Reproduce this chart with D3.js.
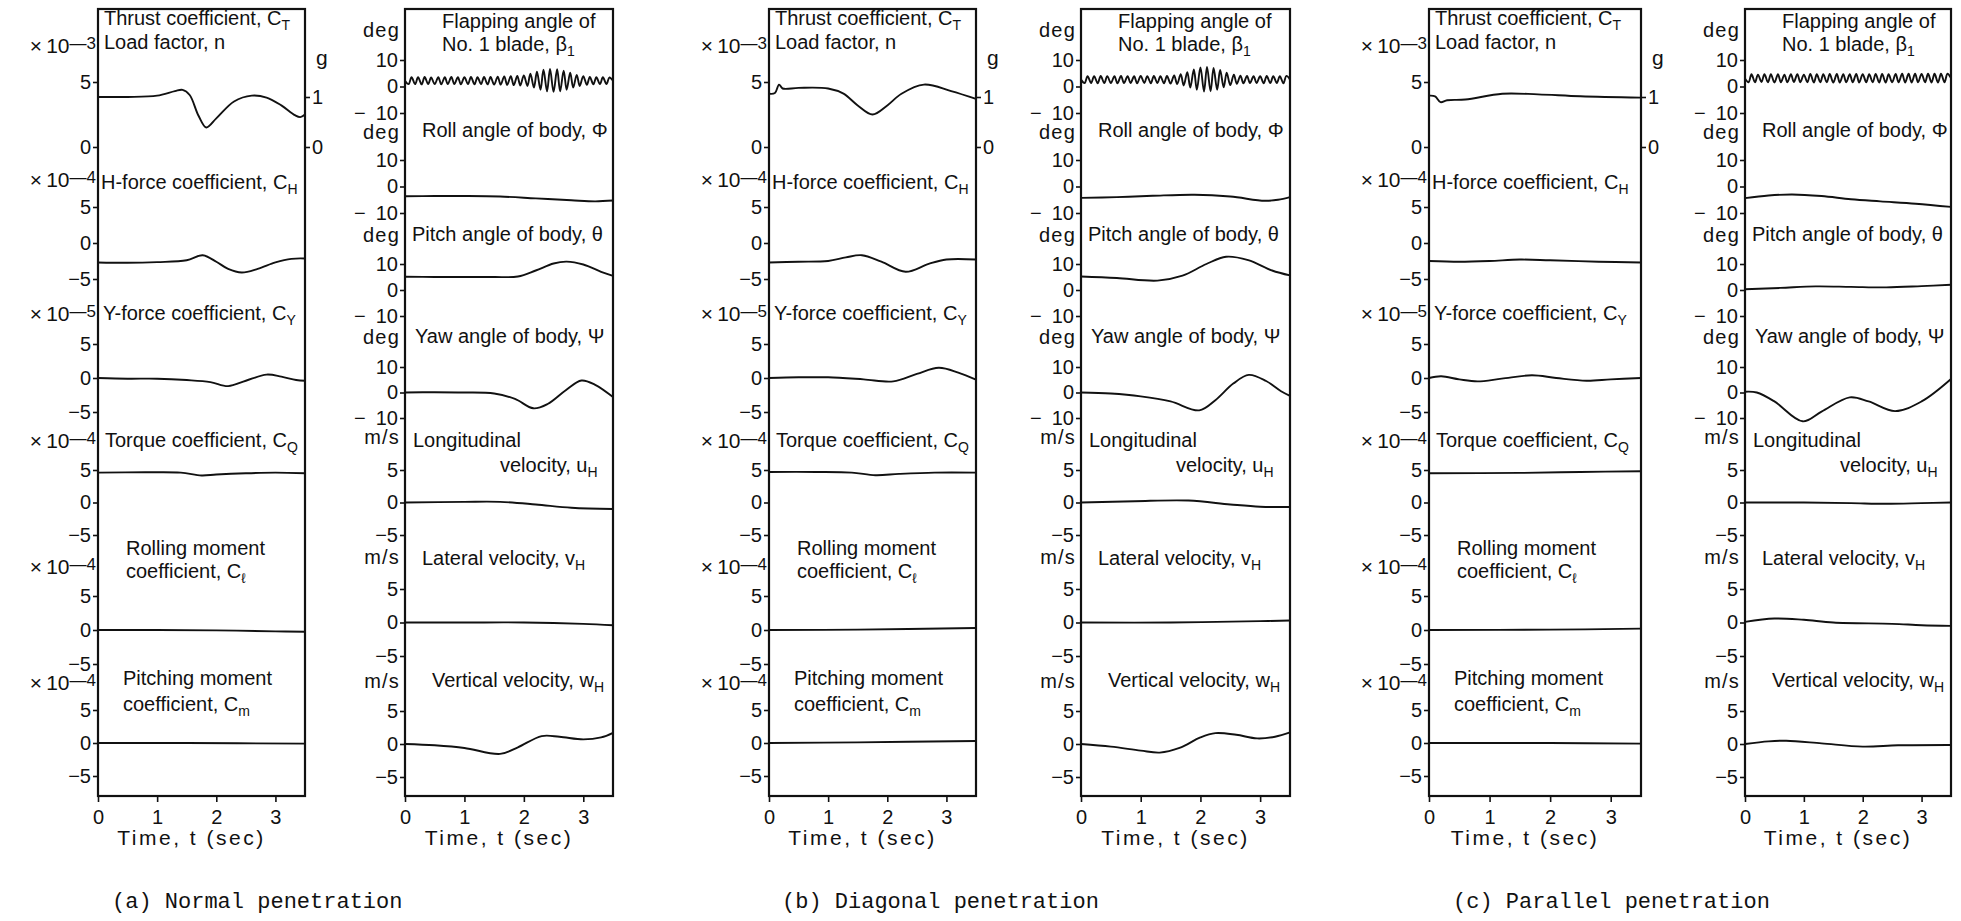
<!DOCTYPE html>
<html>
<head>
<meta charset="utf-8">
<script src="https://cdn.jsdelivr.net/npm/d3@7"></script>
<style>
  body { margin: 0; background: #fff; }
  text { font-family: "Liberation Sans", Arial, sans-serif; fill: #111; }
</style>
</head>
<body>
<svg id="chart" width="1961" height="921"></svg>
<script>
// ---- tick labels ----
var timeTicks = [0, 1, 2, 3];
var coefTicks = [5, 0, -5];
var thrustTicks = [5, 0];
var loadTicks = [1, 0];
var degTicks = [10, 0, -10];
var msTicks = [5, 0, -5];
var multipliers = ["—3", "—4", "—5", "—4", "—4", "—4"];
var units = ["deg", "deg", "deg", "deg", "m/s", "m/s", "m/s"];
var captions = ["(a) Normal penetration", "(b) Diagonal penetration", "(c) Parallel penetration"];

// ---- flapping angle samples (deg) ----
var flapT = [0.00,0.06,0.11,0.17,0.22,0.28,0.33,0.39,0.44,0.50,
  0.56,0.61,0.67,0.72,0.78,0.83,0.89,0.94,1.00,1.06,
  1.11,1.17,1.22,1.28,1.33,1.39,1.44,1.50,1.56,1.61,
  1.67,1.72,1.78,1.83,1.89,1.94,2.00,2.06,2.11,2.17,
  2.22,2.28,2.33,2.39,2.44,2.50,2.56,2.61,2.67,2.72,
  2.78,2.83,2.89,2.94,3.00,3.06,3.11,3.17,3.22,3.28,
  3.33,3.39,3.44,3.50];
var flapA = [2.2,0.9,3.5,0.9,3.5,0.8,3.6,0.9,3.4,0.9,
  3.5,0.8,3.5,0.9,3.6,0.9,3.5,0.8,3.5,0.9,
  3.6,0.8,3.5,0.9,3.6,0.8,3.6,0.7,3.7,0.7,
  3.8,0.6,3.9,0.5,4.0,0.4,4.2,0.2,4.8,-0.4,
  5.6,-1.2,6.3,-1.8,6.6,-2.0,6.5,-1.8,6.0,-1.2,
  5.2,-0.4,4.4,0.2,3.9,0.6,3.6,0.8,3.5,0.9,
  3.5,0.9,3.4,2.2];
var flapB = [2.6,1.3,3.9,1.3,3.9,1.2,4.0,1.3,3.9,1.3,
  3.9,1.2,4.0,1.3,3.9,1.3,3.9,1.2,4.0,1.3,
  3.9,1.2,4.0,1.3,3.9,1.2,4.0,1.1,4.2,0.9,
  4.6,0.4,5.4,-0.4,6.4,-1.2,7.2,-1.9,7.4,-1.8,
  7.0,-1.2,6.2,-0.3,5.2,0.5,4.5,1.0,4.1,1.2,
  4.0,1.3,3.9,1.3,3.9,1.2,4.0,1.3,3.9,1.3,
  3.9,1.2,4.0,2.6];
var flapC = [3.0,1.6,4.6,1.6,4.5,1.7,4.6,1.6,4.6,1.5,
  4.6,1.6,4.5,1.6,4.6,1.7,4.6,1.6,4.5,1.6,
  4.7,1.5,4.6,1.6,4.6,1.6,4.7,1.5,4.7,1.5,
  4.6,1.6,4.6,1.6,4.7,1.5,4.6,1.6,4.6,1.6,
  4.7,1.5,4.7,1.5,4.6,1.6,4.7,1.6,4.8,1.5,
  4.8,1.5,4.8,1.6,4.7,1.6,4.8,1.5,4.8,1.5,
  4.8,1.6,4.8,3.2];

// ---- (a) normal penetration, [t, value] ----
var thrustA = [[0,3.85],[0.5,3.85],[1.0,3.95],[1.3,4.3],[1.43,4.4],[1.55,4.0],[1.7,2.4],[1.83,1.5],[2.0,2.2],[2.3,3.5],[2.6,3.95],[2.85,3.8],[3.1,3.2],[3.33,2.45],[3.42,2.3],[3.5,2.5]];
var hForceA = [[0,-2.7],[0.5,-2.75],[1.0,-2.65],[1.5,-2.4],[1.77,-1.7],[2.0,-2.6],[2.2,-3.6],[2.43,-4.1],[2.7,-3.6],[3.0,-2.7],[3.27,-2.2],[3.5,-2.15]];
var yForceA = [[0,0],[0.5,-0.1],[1.0,-0.1],[1.5,-0.3],[1.9,-0.6],[2.2,-1.2],[2.5,-0.4],[2.85,0.5],[3.1,0.2],[3.35,-0.3],[3.5,-0.4]];
var torqueA = [[0,4.6],[0.8,4.65],[1.4,4.6],[1.75,4.15],[2.0,4.3],[2.5,4.5],[3.0,4.6],[3.5,4.5]];
var rollMomA = [[0,0],[1,0],[2,-0.05],[3,-0.2],[3.5,-0.25]];
var pitchMomA = [[0,0],[1.5,0],[3.5,-0.1]];
var rollA = [[0,-3.7],[0.5,-3.6],[1.0,-3.6],[1.6,-3.8],[2.2,-4.5],[2.8,-5.2],[3.2,-5.6],[3.5,-5.3]];
var pitchA = [[0,5.1],[0.5,5.0],[1.0,5.0],[1.5,5.0],[1.9,5.2],[2.2,7.5],[2.5,10.2],[2.72,10.9],[3.0,9.8],[3.3,7.0],[3.5,5.4]];
var yawA = [[0,0],[0.5,0.1],[1.0,0.0],[1.5,-0.4],[1.85,-2.5],[2.16,-6.2],[2.4,-4.5],[2.7,0.8],[2.97,4.7],[3.2,3.0],[3.5,-1.8]];
var uA = [[0,0],[1,0.1],[1.6,0.1],[2.2,-0.3],[2.8,-0.8],[3.5,-1.0]];
var vA = [[0,0],[1,0],[2,0],[3,-0.2],[3.5,-0.4]];
var wA = [[0,0],[0.5,-0.2],[1.0,-0.6],[1.6,-1.5],[1.9,-0.5],[2.3,1.2],[2.6,1.1],[3.0,0.7],[3.3,1.0],[3.5,1.7]];

// ---- (b) diagonal penetration ----
var thrustB = [[0,4.1],[0.1,4.15],[0.17,4.8],[0.23,4.5],[0.5,4.55],[1.0,4.5],[1.26,4.1],[1.5,3.2],[1.75,2.5],[2.0,3.2],[2.24,4.1],[2.62,4.8],[3.08,4.3],[3.5,3.7]];
var hForceB = [[0,-2.7],[0.5,-2.6],[1.0,-2.5],[1.3,-2.0],[1.57,-1.7],[1.9,-2.6],[2.31,-4.0],[2.7,-2.9],[3.0,-2.3],[3.5,-2.3]];
var yForceB = [[0,0],[0.5,0.1],[1.0,0.1],[1.6,-0.2],[2.1,-0.5],[2.5,0.6],[2.87,1.5],[3.2,0.8],[3.5,-0.25]];
var torqueB = [[0,4.7],[0.8,4.7],[1.4,4.6],[1.8,4.2],[2.2,4.4],[2.8,4.6],[3.5,4.6]];
var rollMomB = [[0,0],[1.5,0.05],[3.5,0.3]];
var pitchMomB = [[0,0],[1.5,0.1],[3.5,0.3]];
var rollB = [[0,-4.3],[0.6,-4.0],[1.2,-3.5],[1.9,-3.1],[2.5,-3.8],[3.08,-5.4],[3.3,-5.0],[3.5,-4.0]];
var pitchB = [[0,5.2],[0.6,4.6],[1.28,3.6],[1.7,5.5],[2.1,10.0],[2.43,12.8],[2.8,11.5],[3.2,7.5],[3.5,5.6]];
var yawB = [[0,0],[0.5,-0.4],[1.0,-1.5],[1.5,-3.5],[1.98,-7.0],[2.25,-3.0],[2.55,3.5],[2.81,6.9],[3.1,4.5],[3.35,0.5],[3.5,-1.3]];
var uB = [[0,0],[0.9,0.2],[1.8,0.3],[2.5,-0.3],[3.0,-0.65],[3.5,-0.7]];
var vB = [[0,0],[1.5,0],[3.0,0.2],[3.5,0.3]];
var wB = [[0,0],[0.5,-0.4],[1.0,-1.0],[1.32,-1.3],[1.65,-0.6],[2.0,1.0],[2.25,1.65],[2.6,1.4],[2.95,0.85],[3.25,1.1],[3.5,1.75]];

// ---- (c) parallel penetration ----
var thrustC = [[0,3.95],[0.1,3.9],[0.19,3.45],[0.3,3.6],[0.6,3.65],[1.21,4.1],[1.8,4.05],[2.5,3.9],[3.5,3.8]];
var hForceC = [[0,-2.5],[0.5,-2.6],[1.0,-2.5],[1.5,-2.3],[2.0,-2.4],[2.8,-2.6],[3.5,-2.7]];
var yForceC = [[0,0],[0.2,0.25],[0.5,-0.2],[0.8,-0.5],[1.2,-0.1],[1.7,0.4],[2.1,0.0],[2.6,-0.4],[3.0,-0.2],[3.5,0]];
var torqueC = [[0,4.5],[1.5,4.55],[2.5,4.7],[3.5,4.8]];
var rollMomC = [[0,0],[2,0.05],[3.5,0.2]];
var pitchMomC = [[0,0],[2,0],[3.5,-0.1]];
var rollC = [[0,-4.4],[0.4,-3.4],[0.8,-3.0],[1.3,-3.6],[1.8,-4.8],[2.3,-5.6],[2.9,-6.5],[3.5,-7.7]];
var pitchC = [[0,0.3],[0.6,0.8],[1.2,1.4],[1.8,1.2],[2.4,1.0],[3.0,1.5],[3.5,2.0]];
var yawC = [[0,0.3],[0.2,0.0],[0.5,-3.5],[0.98,-11.3],[1.3,-7.5],[1.78,-1.9],[2.1,-3.5],[2.55,-7.3],[3.0,-3.5],[3.5,5.3]];
var uC = [[0,0],[1.0,0],[1.8,-0.1],[2.4,-0.2],[3.0,-0.1],[3.5,0]];
var vC = [[0,0.1],[0.5,0.6],[1.0,0.4],[1.5,0],[2.5,-0.2],[3.0,-0.4],[3.5,-0.5]];
var wC = [[0,0],[0.4,0.4],[0.7,0.5],[1.3,0.1],[2.0,-0.4],[2.6,-0.2],[3.5,-0.15]];

// ---- layout ----
var groups = [
  {left: [98, 305], right: [405, 613], capX: 112,
   leftSeries: [thrustA, hForceA, yForceA, torqueA, rollMomA, pitchMomA],
   rightSeries: [d3.zip(flapT, flapA), rollA, pitchA, yawA, uA, vA, wA]},
  {left: [769, 976], right: [1081, 1290], capX: 782,
   leftSeries: [thrustB, hForceB, yForceB, torqueB, rollMomB, pitchMomB],
   rightSeries: [d3.zip(flapT, flapB), rollB, pitchB, yawB, uB, vB, wB]},
  {left: [1429, 1641], right: [1745, 1951], capX: 1453,
   leftSeries: [thrustC, hForceC, yForceC, torqueC, rollMomC, pitchMomC],
   rightSeries: [d3.zip(flapT, flapC), rollC, pitchC, yawC, uC, vC, wC]}
];

// vertical placement of each stacked panel: [domain lo, hi] -> [px lo, px hi]
var leftRows = [
  {dom: [0, 5], px: [147, 82], ticks: thrustTicks, multY: 53,
   titles: [[6, 25, "Thrust coefficient, C_{T}"], [6, 49, "Load factor, n"]]},
  {dom: [-5, 5], px: [279, 207], ticks: coefTicks, multY: 187,
   titles: [[3, 189, "H-force coefficient, C_{H}"]]},
  {dom: [-5, 5], px: [412, 344], ticks: coefTicks, multY: 321,
   titles: [[5, 320, "Y-force coefficient, C_{Y}"]]},
  {dom: [-5, 5], px: [535, 470], ticks: coefTicks, multY: 448,
   titles: [[7, 447, "Torque coefficient, C_{Q}"]]},
  {dom: [-5, 5], px: [664, 596], ticks: coefTicks, multY: 574,
   titles: [[28, 555, "Rolling moment"], [28, 578, "coefficient, C_{ℓ}"]]},
  {dom: [-5, 5], px: [776, 710], ticks: coefTicks, multY: 690,
   titles: [[25, 685, "Pitching moment"], [25, 711, "coefficient, C_{m}"]]}
];
var rightRows = [
  {dom: [-10, 10], px: [113, 60], ticks: degTicks, unitY: 37,
   titles: [[37, 28, "Flapping angle of"], [37, 51, "No. 1 blade, β_{1}"]]},
  {dom: [-10, 10], px: [213, 160], ticks: degTicks, unitY: 139,
   titles: [[17, 137, "Roll angle of body, Φ"]]},
  {dom: [-10, 10], px: [316, 264], ticks: degTicks, unitY: 242,
   titles: [[7, 241, "Pitch angle of body, θ"]]},
  {dom: [-10, 10], px: [418, 367], ticks: degTicks, unitY: 344,
   titles: [[10, 343, "Yaw angle of body, Ψ"]]},
  {dom: [-5, 5], px: [535, 470], ticks: msTicks, unitY: 444,
   titles: [[8, 447, "Longitudinal"], [95, 472, "velocity, u_{H}"]]},
  {dom: [-5, 5], px: [656, 589], ticks: msTicks, unitY: 564,
   titles: [[17, 565, "Lateral velocity, v_{H}"]]},
  {dom: [-5, 5], px: [777, 711], ticks: msTicks, unitY: 688,
   titles: [[27, 687, "Vertical velocity, w_{H}"]]}
];
var frameTop = 9, frameBottom = 796;

var svg = d3.select("#chart");

// text with _{sub} and ^{sup} parts
function addText(g, x, y, str, opts) {
  opts = opts || {};
  var t = g.append("text").attr("x", x).attr("y", y).attr("dy", "0.35em")
    .attr("text-anchor", opts.anchor || "start")
    .style("font-size", (opts.size || 20) + "px");
  if (opts.spacing) t.style("letter-spacing", opts.spacing + "px");
  var back = 0;
  str.split(/([_^]\{[^}]*\})/).forEach(function(p) {
    if (!p) return;
    var m = p.match(/^([_^])\{(.*)\}$/);
    if (m) {
      var shift = m[1] === "_" ? 5 : -4;
      t.append("tspan").attr("dy", shift + back)
        .style("font-size", m[1] === "_" ? "14px" : "17px").text(m[2]);
      back = -shift;
    } else {
      t.append("tspan").attr("dy", back).text(p);
      back = 0;
    }
  });
  return t;
}

function minusFmt(d) { return d < 0 ? "−" + Math.abs(d) : String(d); }
function degFmt(d) { return d < 0 ? "−\u2002" + Math.abs(d) : String(d); }

function styleAxis(g) {
  g.select(".domain").remove();
  g.selectAll(".tick line").attr("stroke", "#111").attr("stroke-width", 1.6);
  g.selectAll(".tick text").attr("fill", "#111")
    .style("font-family", "'Liberation Sans', Arial, sans-serif")
    .style("font-size", "20px");
}

var line = d3.line().curve(d3.curveCatmullRom);

function drawColumn(x0, x1, rows, series, isLeft) {
  var g = svg.append("g");
  var x = d3.scaleLinear().domain([0, 3.5]).range([x0, x1]);

  rows.forEach(function(row, i) {
    var y = d3.scaleLinear().domain(row.dom).range(row.px);
    g.append("g").attr("transform", "translate(" + x0 + ",0)")
      .call(d3.axisLeft(y).tickValues(row.ticks).tickSize(5).tickPadding(2)
        .tickFormat(isLeft || row.ticks === msTicks ? minusFmt : degFmt))
      .call(styleAxis);

    if (isLeft) {
      addText(g, x0 - 2, row.multY, "×\u200910^{" + multipliers[i] + "}", {anchor: "end", size: 21});
    } else {
      addText(g, x0 - 5, row.unitY, units[i], {anchor: "end", size: 20, spacing: 1.2});
    }
    row.titles.forEach(function(tt) { addText(g, x0 + tt[0], tt[1], tt[2]); });

    line.x(function(d) { return x(d[0]); }).y(function(d) { return y(d[1]); });
    g.append("path").datum(series[i]).attr("d", line)
      .attr("fill", "none").attr("stroke", "#111").attr("stroke-width", 1.9)
      .attr("stroke-linejoin", "round");
  });

  if (isLeft) {
    // load factor scale on the right of the thrust panel
    var gy = d3.scaleLinear().domain([0, 1]).range([147, 97]);
    g.append("g").attr("transform", "translate(" + x1 + ",0)")
      .call(d3.axisRight(gy).tickValues(loadTicks).tickSize(5).tickPadding(2).tickFormat(minusFmt))
      .call(styleAxis);
    addText(g, x1 + 11, 65, "g", {size: 21});
  }

  g.append("g").attr("transform", "translate(0," + frameBottom + ")")
    .call(d3.axisBottom(x).tickValues(timeTicks).tickSize(6).tickPadding(8).tickFormat(minusFmt))
    .call(styleAxis);

  g.append("rect").attr("x", x0).attr("y", frameTop)
    .attr("width", x1 - x0).attr("height", frameBottom - frameTop)
    .attr("fill", "none").attr("stroke", "#111").attr("stroke-width", 2.2);

  addText(g, (x0 + x1) / 2 - 10, 845, "Time, t (sec)", {anchor: "middle", size: 21, spacing: 2.5});
}

groups.forEach(function(gr, k) {
  drawColumn(gr.left[0], gr.left[1], leftRows, gr.leftSeries, true);
  drawColumn(gr.right[0], gr.right[1], rightRows, gr.rightSeries, false);
  svg.append("text").attr("x", gr.capX).attr("y", 900).attr("dy", "0.35em")
    .style("font-family", "'Liberation Mono', 'DejaVu Sans Mono', monospace")
    .style("font-size", "22px").text(captions[k]);
});
</script>
</body>
</html>
